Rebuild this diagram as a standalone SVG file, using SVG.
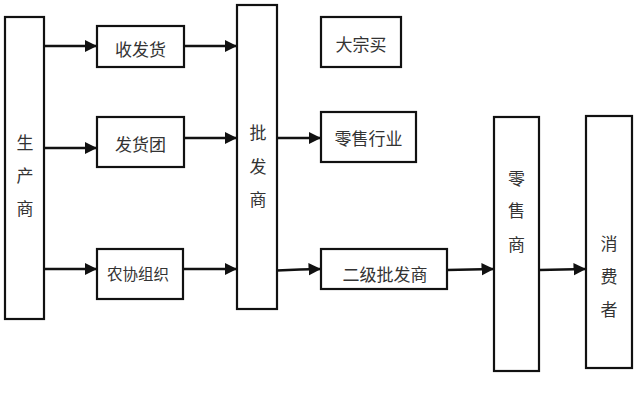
<svg xmlns="http://www.w3.org/2000/svg" width="640" height="416" viewBox="0 0 640 416">
<style>
.box{fill:#fff;stroke:#111;stroke-width:2.2}
.t{font-family:"Noto Sans CJK SC","Noto Sans CJK JP",sans-serif;font-size:17px;fill:#333;text-anchor:middle;dominant-baseline:central}
.c{stroke:#111;stroke-width:2.6;fill:none;marker-end:url(#ah)}
</style>
<defs>
<marker id="ah" viewBox="0 0 10 10" refX="10" refY="5" markerWidth="4.8" markerHeight="5.6" markerUnits="strokeWidth" orient="auto">
<path d="M0,0 L10,5 L0,10 z" fill="#111"/>
</marker>
</defs>
<rect width="640" height="416" fill="#fff"/>
<g id="connectors">
<line class="c" x1="45" y1="46" x2="97" y2="46"/>
<line class="c" x1="185" y1="46" x2="237" y2="46"/>
<line class="c" x1="45" y1="148" x2="97" y2="148"/>
<line class="c" x1="185" y1="138" x2="237" y2="138"/>
<line class="c" x1="45" y1="269" x2="97" y2="269"/>
<line class="c" x1="184" y1="269" x2="237" y2="269"/>
<line class="c" x1="277" y1="138" x2="321" y2="138"/>
<polyline class="c" points="277,270.5 300,269.5 321,269"/>
<line class="c" x1="447" y1="270" x2="494" y2="269"/>
<line class="c" x1="539" y1="270" x2="586" y2="269"/>
</g>
<g id="n-producer">
<rect class="box" x="5" y="17" width="39" height="302"/>
<text class="t" x="25" y="141">生</text>
<text class="t" x="25" y="174">产</text>
<text class="t" x="25" y="207">商</text>
</g>
<g id="n-shoufahuo">
<rect class="box" x="97" y="26" width="87" height="41"/>
<text class="t" x="140.5" y="48">收发货</text>
</g>
<g id="n-fahuotuan">
<rect class="box" x="97" y="117" width="87" height="50"/>
<text class="t" x="140.5" y="143">发货团</text>
</g>
<g id="n-nongxie">
<rect class="box" x="97" y="249" width="86" height="50"/>
<text class="t" x="138" y="273" style="font-size:15.5px">农协组织</text>
</g>
<g id="n-wholesaler">
<rect class="box" x="237" y="5" width="40" height="304"/>
<text class="t" x="258" y="131">批</text>
<text class="t" x="258" y="165">发</text>
<text class="t" x="258" y="198">商</text>
</g>
<g id="n-dazong">
<rect class="box" x="321" y="17" width="80" height="50"/>
<text class="t" x="361" y="43">大宗买</text>
</g>
<g id="n-lingshouhangye">
<rect class="box" x="321" y="112" width="95" height="50"/>
<text class="t" x="368.5" y="137">零售行业</text>
</g>
<g id="n-erji">
<rect class="box" x="321" y="249" width="126" height="40"/>
<text class="t" x="385" y="273">二级批发商</text>
</g>
<g id="n-retailer">
<rect class="box" x="494" y="117" width="45" height="254"/>
<text class="t" x="516.5" y="177">零</text>
<text class="t" x="516.5" y="209">售</text>
<text class="t" x="516.5" y="243">商</text>
</g>
<g id="n-consumer">
<rect class="box" x="586" y="116" width="46" height="252"/>
<text class="t" x="609" y="242">消</text>
<text class="t" x="609" y="275">费</text>
<text class="t" x="609" y="308">者</text>
</g>
</svg>
